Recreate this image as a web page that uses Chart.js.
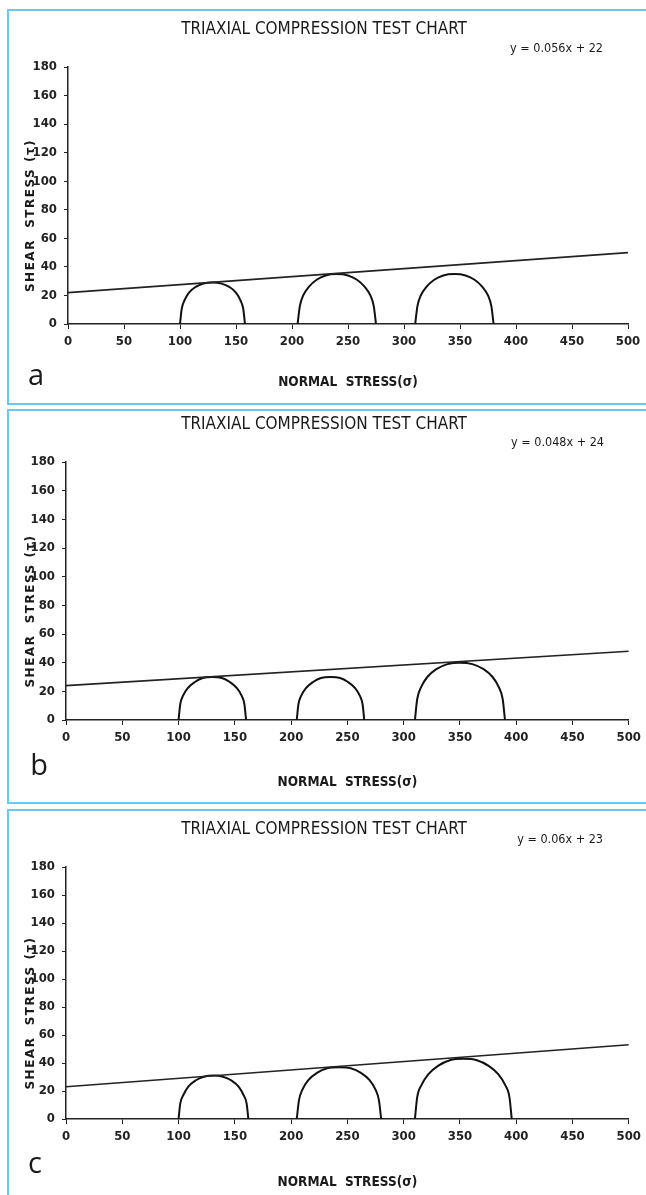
<!DOCTYPE html>
<html>
<head>
<meta charset="utf-8">
<script src="https://cdn.jsdelivr.net/npm/chart.js@4.4.1/dist/chart.umd.min.js"></script>
<style>
    body { margin: 0; background: #fff; width: 646px; height: 1195px; overflow: hidden; position: relative; }
    .panel { position: absolute; left: 7px; width: 660px; border: 2px solid #66c9f0; box-sizing: border-box; }
    .wrap { position: absolute; left: 9px; width: 637px; }
</style>
</head>
<body>
<div class="panel" style="top:9px;height:396px"></div>
<div class="panel" style="top:409px;height:395px"></div>
<div class="panel" style="top:809px;height:400px"></div>
<div class="wrap" style="top:11px;height:390px"><canvas id="chartA"></canvas></div>
<div class="wrap" style="top:411px;height:390px"><canvas id="chartB"></canvas></div>
<div class="wrap" style="top:811px;height:384px"><canvas id="chartC"></canvas></div>
<script>
    var chartTitle = 'TRIAXIAL COMPRESSION TEST CHART';
    var xTitle = 'NORMAL  STRESS(σ)';
    var yTitle = 'SHEAR  STRESS (τ)';
    var xTicks = [0, 50, 100, 150, 200, 250, 300, 350, 400, 450, 500];
    var yTicks = [0, 20, 40, 60, 80, 100, 120, 140, 160, 180];
    var letters = ['a', 'b', 'c'];
    var equations = ['y = 0.056x + 22', 'y = 0.048x + 24', 'y = 0.06x + 23'];

    // failure envelope, read at both ends of the axis
    var fitX = [0, 500];
    var fitYA = [22, 50];
    var fitYB = [24, 48];
    var fitYC = [23, 53];

    // Mohr circles, panel a
    var arc1XA = [100, 101.5, 104, 108, 114, 121, 129, 137, 144, 150, 154, 156.5, 158];
    var arc1YA = [0, 10.5, 16.5, 22, 26, 28.3, 29, 28.3, 26, 22, 16.5, 10.5, 0];
    var arc2XA = [205, 207, 210, 215, 222, 230, 240, 250, 258, 265, 270, 273, 275];
    var arc2YA = [0, 12.5, 20, 26, 31, 34, 35, 34, 31, 26, 20, 12.5, 0];
    var arc3XA = [310, 312, 315, 320, 327, 335, 345, 355, 363, 370, 375, 378, 380];
    var arc3YA = [0, 12.5, 20, 26, 31, 34, 35, 34, 31, 26, 20, 12.5, 0];

    // panel b
    var arc1XB = [100, 101.5, 104, 108.5, 114.5, 121.5, 130, 138.5, 145.5, 151.5, 156, 158.5, 160];
    var arc1YB = [0, 11, 17, 22.5, 26.5, 29.3, 30, 29.3, 26.5, 22.5, 17, 11, 0];
    var arc2XB = [205, 206.5, 209, 213.5, 219.5, 226.5, 235, 243.5, 250.5, 256.5, 261, 263.5, 265];
    var arc2YB = [0, 11, 17, 22.5, 26.5, 29.3, 30, 29.3, 26.5, 22.5, 17, 11, 0];
    var arc3XB = [310, 312, 315.5, 321, 329, 339, 350, 361, 371, 379, 384.5, 388, 390];
    var arc3YB = [0, 14.5, 23, 30, 35.5, 39, 40, 39, 35.5, 30, 23, 14.5, 0];

    // panel c
    var arc1XC = [100, 101.5, 104.5, 108.5, 115, 122.5, 131, 139.5, 147, 153.5, 157.5, 160.5, 162];
    var arc1YC = [0, 11, 17.5, 23, 27.5, 30.2, 31, 30.2, 27.5, 23, 17.5, 11, 0];
    var arc2XC = [205, 207, 210, 215.5, 223, 232, 242.5, 253, 262, 269.5, 275, 278, 280];
    var arc2YC = [0, 13.5, 21, 28, 33, 36.2, 37, 36.2, 33, 28, 21, 13.5, 0];
    var arc3XC = [310, 312, 316, 322, 330.5, 341, 353, 365, 375.5, 384, 390, 394, 396];
    var arc3YC = [0, 15.5, 24.5, 32, 38, 42, 43, 42, 38, 32, 24.5, 15.5, 0];

    var narrow = '"DejaVu Sans Condensed", "Liberation Sans Narrow", sans-serif';

    function pts(xs, ys) {
        return xs.map(function (x, i) { return { x: x, y: ys[i] }; });
    }

    var panelText = {
        id: 'panelText',
        afterDraw: function (chart, args, o) {
            var ctx = chart.ctx, area = chart.chartArea;
            ctx.save();
            ctx.fillStyle = '#1a1a1a';
            ctx.textBaseline = 'middle';

            ctx.textAlign = 'center';
            ctx.font = '17px ' + narrow;
            ctx.fillText(chartTitle, o.titleX, o.titleY);

            ctx.textAlign = 'right';
            ctx.font = '12.5px ' + narrow;
            ctx.fillText(o.equation, o.eqX, o.eqY);

            ctx.textAlign = 'center';
            ctx.font = '29px "Open Sans", "Liberation Sans", sans-serif';
            ctx.fillText(o.letter, o.letterX, o.letterY);

            ctx.translate(o.yTitleX, (area.top + area.bottom) / 2 + 20);
            ctx.rotate(-Math.PI / 2);
            ctx.font = 'bold 12px "DejaVu Sans", sans-serif';
            ctx.letterSpacing = '1.5px';
            ctx.fillText(yTitle, 0, 0);
            ctx.restore();
        }
    };

    function makeChart(id, fitY, arcs, lay) {
        var datasets = [{
            data: pts(fitX, fitY),
            borderColor: '#222',
            borderWidth: 1.6
        }];
        arcs.forEach(function (a) {
            datasets.push({
                data: pts(a[0], a[1]),
                borderColor: '#111',
                borderWidth: 2,
                cubicInterpolationMode: 'monotone'
            });
        });

        new Chart(document.getElementById(id).getContext('2d'), {
            type: 'scatter',
            data: { datasets: datasets },
            options: {
                responsive: true,
                maintainAspectRatio: false,
                animation: false,
                showLine: true,
                elements: { point: { radius: 0, hoverRadius: 0 } },
                layout: { padding: lay.padding },
                scales: {
                    x: {
                        type: 'linear',
                        min: 0,
                        max: 500,
                        afterBuildTicks: function (s) { s.ticks = xTicks.map(function (v) { return { value: v }; }); },
                        afterFit: function (s) { s.height = lay.xHeight; },
                        ticks: { color: '#222', padding: 5, maxRotation: 0, autoSkip: false, font: { family: narrow, size: 13, weight: 'bold' } },
                        grid: { drawOnChartArea: false, tickLength: 5, color: '#222' },
                        border: { color: '#222', width: 1.5 },
                        title: { display: true, text: xTitle, color: '#1a1a1a', padding: 0, font: { family: narrow, size: 13.5, weight: 'bold' } }
                    },
                    y: {
                        min: 0,
                        max: 180,
                        afterBuildTicks: function (s) { s.ticks = yTicks.map(function (v) { return { value: v }; }); },
                        afterFit: function (s) { s.width = 45; },
                        ticks: { color: '#222', padding: 7, autoSkip: false, font: { family: narrow, size: 13, weight: 'bold' } },
                        grid: { drawOnChartArea: false, tickLength: 4, color: '#222' },
                        border: { color: '#222', width: 1.5 }
                    }
                },
                plugins: {
                    legend: { display: false },
                    tooltip: { enabled: false },
                    panelText: lay.text
                }
            },
            plugins: [panelText]
        });
    }

    makeChart('chartA', fitYA, [[arc1XA, arc1YA], [arc2XA, arc2YA], [arc3XA, arc3YA]], {
        padding: { left: 14, right: 18, top: 56, bottom: 10 },
        xHeight: 67,
        text: { titleX: 315, titleY: 19, equation: equations[0], eqX: 594, eqY: 38, letter: letters[0], letterX: 27, letterY: 366, yTitleX: 22 }
    });
    makeChart('chartB', fitYB, [[arc1XB, arc1YB], [arc2XB, arc2YB], [arc3XB, arc3YB]], {
        padding: { left: 12, right: 15, top: 51, bottom: 10 },
        xHeight: 71,
        text: { titleX: 315, titleY: 14, equation: equations[1], eqX: 595, eqY: 32, letter: letters[1], letterX: 30, letterY: 356, yTitleX: 22 }
    });
    makeChart('chartC', fitYC, [[arc1XC, arc1YC], [arc2XC, arc2YC], [arc3XC, arc3YC]], {
        padding: { left: 12, right: 17, top: 56, bottom: 4 },
        xHeight: 72,
        text: { titleX: 315, titleY: 19, equation: equations[2], eqX: 594, eqY: 29, letter: letters[2], letterX: 26, letterY: 354, yTitleX: 22 }
    });
</script>
</body>
</html>
